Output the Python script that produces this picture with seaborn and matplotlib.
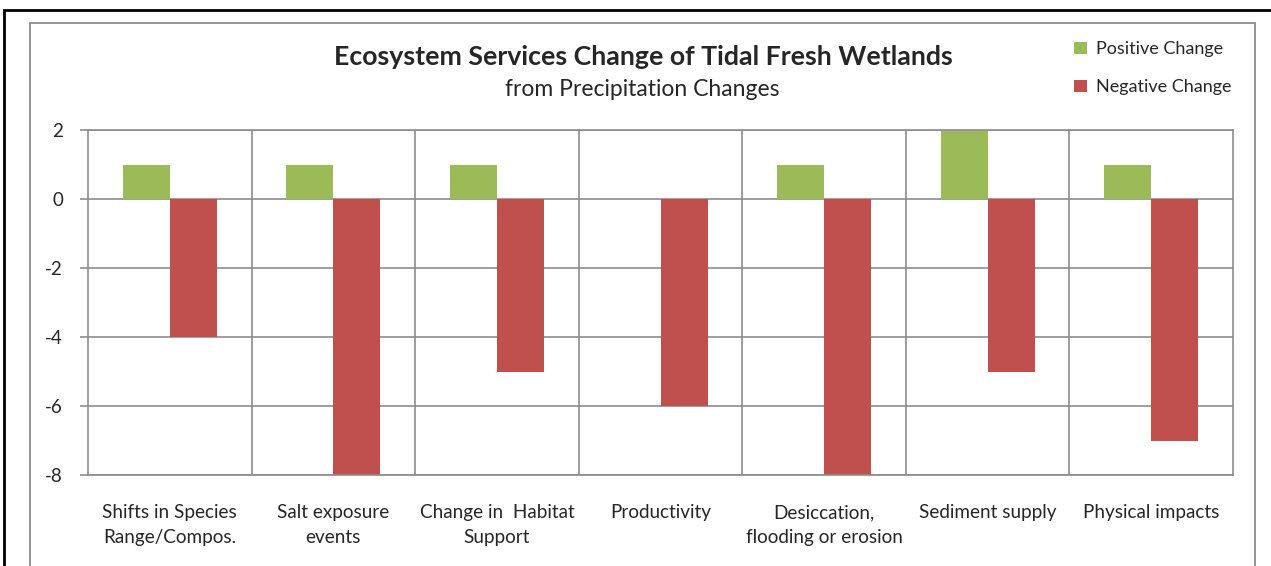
import numpy as np
import pandas as pd
import matplotlib.pyplot as plt
import seaborn as sns
from matplotlib.patches import Rectangle

categorias = [
    "Shifts in Species\nRange/Compos.",
    "Salt exposure\nevents",
    "Change in  Habitat\nSupport",
    "Productivity",
    "Desiccation,\nflooding or erosion",
    "Sediment supply",
    "Physical impacts",
]
positivo = [1, 1, 1, 0, 1, 2, 1]
negativo = [-4, -8, -5, -6, -8, -5, -7]
series = ["Positive Change", "Negative Change"]
colores = ["#9BBB59", "#C0504D"]
yticks = [2, 0, -2, -4, -6, -8]

df = pd.DataFrame({
    "categoria": categorias * 2,
    "serie": [series[0]] * len(categorias) + [series[1]] * len(categorias),
    "valor": positivo + negativo,
})

sns.set_theme(style="white")
plt.rcParams["font.family"] = ["Lato", "DejaVu Sans"]

fig = plt.figure(figsize=(12.71, 5.66), dpi=100)
ax = fig.add_axes([88 / 1271, 1 - 475 / 566, (1233 - 88) / 1271, (475 - 130) / 566])

sns.barplot(data=df, x="categoria", y="valor", hue="serie", palette=colores,
            width=0.575, saturation=1, linewidth=0, ax=ax, legend=True)

gris = "#8c8c8c"
ax.set_ylim(-8, 2)
ax.set_xlim(-0.5, len(categorias) - 0.5)
ax.set_yticks(yticks)
ax.set_yticklabels([str(v) for v in yticks], fontsize=13.5)
ax.set_xticks(np.arange(0.5, len(categorias) - 0.5), minor=True)
ax.grid(axis="y", color=gris, lw=1.2)
ax.grid(axis="x", which="minor", color=gris, lw=1.2)
ax.set_axisbelow(True)
ax.tick_params(axis="x", which="both", length=0, labelsize=13.6, pad=21)
ax.tick_params(axis="y", length=6, color=gris, width=1.2, left=True, pad=12)
for lbl in ax.get_xticklabels():
    lbl.set_linespacing(1.55)
for s in ax.spines.values():
    s.set_color(gris)
    s.set_linewidth(1.2)
ax.set_xlabel("")
ax.set_ylabel("")

handles, labels = ax.get_legend_handles_labels()
ax.get_legend().remove()
fig.legend(handles, labels, loc="upper left", bbox_to_anchor=(1058 / 1271, 1 - 25 / 566),
           frameon=False, fontsize=13, handlelength=0.7, handleheight=0.7,
           handletextpad=0.5, labelspacing=1.22)

fig.text(643 / 1271, 1 - 57 / 566, "Ecosystem Services Change of Tidal Fresh Wetlands",
         ha="center", va="center", fontsize=19.3, fontweight="bold")
fig.text(642 / 1271, 1 - 90 / 566, "from Precipitation Changes",
         ha="center", va="center", fontsize=16.5)

# marcos exteriores
fig.patches.append(Rectangle((4 / 1271, -0.1), 1.2, 1 - 10 / 566 + 0.1,
                             transform=fig.transFigure, fill=False, ec="black", lw=2))
fig.patches.append(Rectangle((30 / 1271, -0.1), (1255 - 30) / 1271, 1 - 23 / 566 + 0.1,
                             transform=fig.transFigure, fill=False, ec=gris, lw=1.3))

fig.savefig("out.png", dpi=100, facecolor="white")
